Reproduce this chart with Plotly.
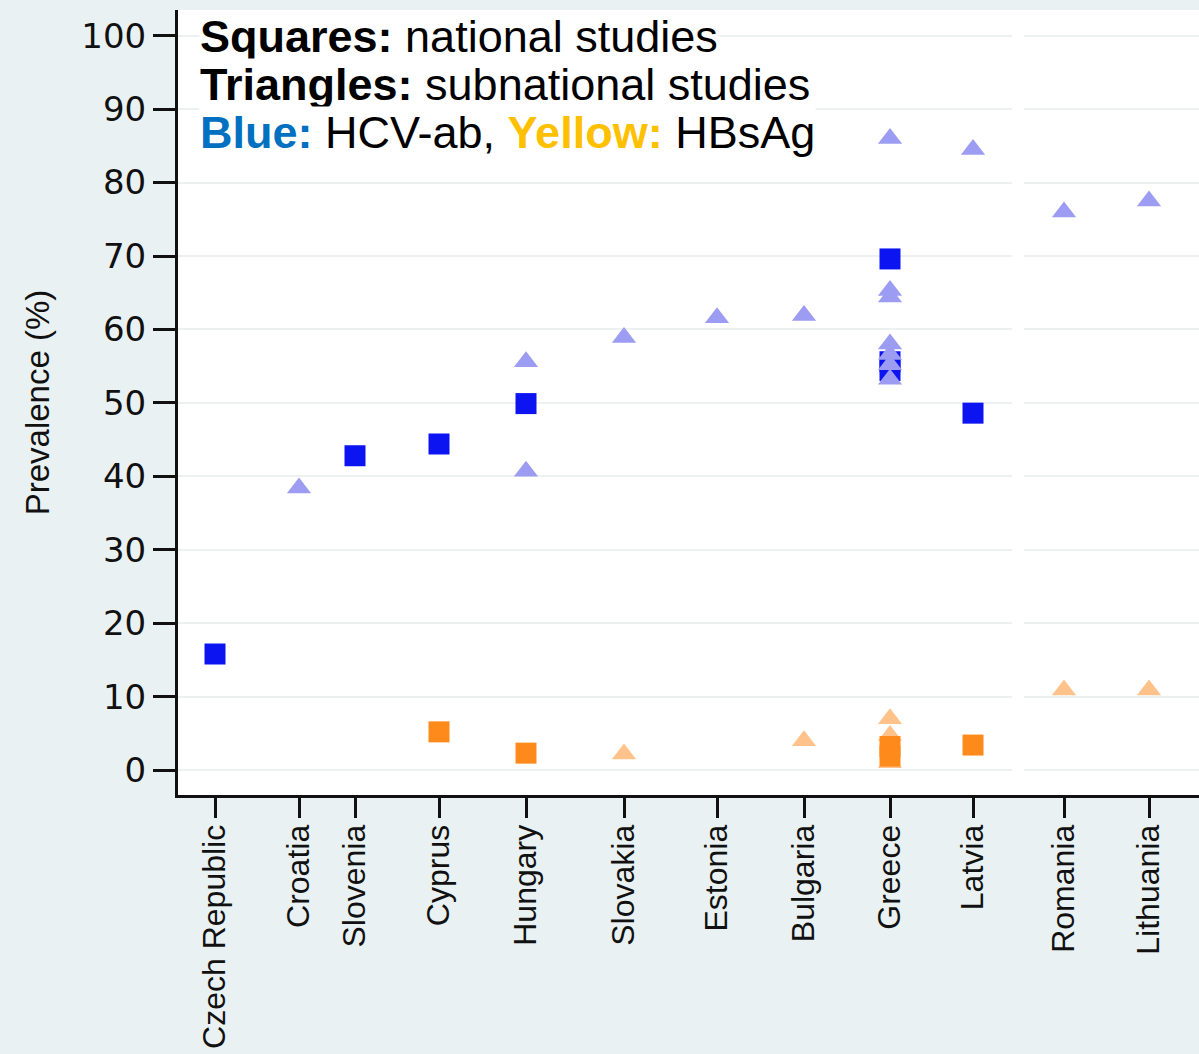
import plotly.graph_objects as go

# Countries and their positions along the horizontal axis
countries = ["Czech Republic", "Croatia", "Slovenia", "Cyprus", "Hungary", "Slovakia",
             "Estonia", "Bulgaria", "Greece", "Latvia", "Romania", "Lithuania"]
country_pos = [3.7, 12.1, 17.7, 26.1, 34.8, 44.6, 53.9, 62.6, 71.2, 79.5, 88.6, 97.1]
pos = dict(zip(countries, country_pos))

# HCV-ab, national studies (squares)
hcv_nat_country = ["Czech Republic", "Slovenia", "Cyprus", "Hungary", "Greece", "Greece", "Greece", "Latvia"]
hcv_nat_value = [15.8, 42.8, 44.4, 49.9, 69.6, 55.6, 54.4, 48.6]

# HCV-ab, subnational studies (triangles)
hcv_sub_country = ["Croatia", "Hungary", "Hungary", "Slovakia", "Estonia", "Bulgaria",
                   "Greece", "Greece", "Greece", "Greece", "Greece", "Greece", "Greece",
                   "Latvia", "Romania", "Lithuania"]
hcv_sub_value = [38.4, 55.6, 40.7, 58.9, 61.6, 61.9,
                 86.0, 65.3, 64.4, 58.0, 56.6, 55.2, 53.2,
                 84.5, 76.0, 77.5]

# HBsAg, national studies (squares)
hbs_nat_country = ["Cyprus", "Hungary", "Greece", "Greece", "Latvia"]
hbs_nat_value = [5.2, 2.3, 3.2, 1.9, 3.4]

# HBsAg, subnational studies (triangles)
hbs_sub_country = ["Slovakia", "Bulgaria", "Greece", "Greece", "Greece", "Romania", "Lithuania"]
hbs_sub_value = [2.2, 4.0, 7.0, 4.7, 1.0, 10.9, 10.9]

y_ticks = list(range(0, 101, 10))

fig = go.Figure()


def add_series(cs, vals, symbol, color, name):
    fig.add_trace(go.Scatter(
        x=[pos[c] for c in cs], y=vals, mode="markers", name=name,
        marker=dict(symbol=symbol, size=21, color=color, line=dict(width=0)),
        showlegend=False,
    ))


add_series(hbs_sub_country, hbs_sub_value, "triangle-up", "#ffc28a", "HBsAg subnational")
add_series(hbs_nat_country, hbs_nat_value, "square", "#ff8a1c", "HBsAg national")
add_series(hcv_nat_country, hcv_nat_value, "square", "#0c14f2", "HCV-ab national")
add_series(hcv_sub_country, hcv_sub_value, "triangle-up", "#9c9cf2", "HCV-ab subnational")

# white separator between the two panels of countries
fig.add_shape(type="rect", xref="x", yref="y", x0=83.4, x1=84.6, y0=-1.5, y1=103.5,
              fillcolor="white", line=dict(width=0), layer="between")

font_main = "Liberation Sans, Arial, sans-serif"
legend_lines = [
    "<b>Squares:</b> national studies",
    "<b>Triangles:</b> subnational studies",
    "<b><span style='color:#0070c0'>Blue:</span></b> HCV-ab, "
    "<b><span style='color:#ffc000'>Yellow:</span></b> HBsAg",
]
for i, txt in enumerate(legend_lines):
    fig.add_annotation(
        xref="paper", yref="paper", x=0.021, y=(795 - 37 - 48 * i) / 785,
        xanchor="left", yanchor="middle", text=txt, showarrow=False,
        font=dict(family=font_main, size=45, color="black"),
        bgcolor="white", borderpad=0,
    )

fig.update_layout(
    width=1199, height=1054,
    margin=dict(l=178, r=0, t=10, b=259, autoexpand=False),
    paper_bgcolor="#eaf1f3",
    plot_bgcolor="white",
    font=dict(family=font_main, color="#1a1a1a"),
    xaxis=dict(
        range=[0, 102.1], tickmode="array", tickvals=country_pos, ticktext=countries,
        tickangle=-90, ticks="outside", ticklen=20, tickwidth=3, tickcolor="#111",
        showline=True, linewidth=3, linecolor="#111", showgrid=False, zeroline=False,
        tickfont=dict(size=32, family=font_main, color="#111"), automargin=False,
        ticklabelstandoff=-6,
    ),
    yaxis=dict(
        range=[-3.4, 103.5], tickmode="array", tickvals=y_ticks,
        ticks="outside", ticklen=22, tickwidth=3, tickcolor="#111",
        showline=True, linewidth=3, linecolor="#111",
        showgrid=True, gridcolor="#edf1f2", gridwidth=2, zeroline=False,
        tickfont=dict(size=34, family="DejaVu Sans, sans-serif", color="#111"),
        title=dict(text="Prevalence (%)", font=dict(size=33, family=font_main, color="#111"),
                   standoff=22),
        automargin=False,
    ),
)

fig.write_html("out.html")
